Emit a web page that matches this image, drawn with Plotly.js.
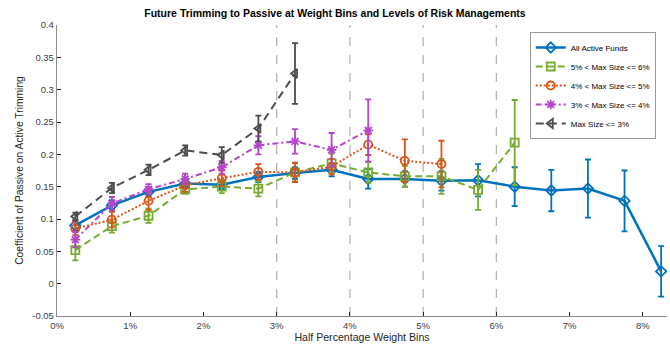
<!DOCTYPE html>
<html>
<head>
<meta charset="utf-8">
<script src="https://cdn.plot.ly/plotly-3.0.1.min.js"></script>
<style>html,body{margin:0;padding:0;background:#fff;}#chart{width:670px;height:353px;}</style>
</head>
<body>
<div id="chart"></div>
<script>
// Bin centers (percent weight)
const bins = [0.25,0.75,1.25,1.75,2.25,2.75,3.25,3.75,4.25,4.75,5.25,5.75,6.25,6.75,7.25,7.75,8.25];

const allActive    = [0.090,0.121,0.142,0.155,0.153,0.165,0.171,0.176,0.162,0.162,0.159,0.160,0.150,0.144,0.147,0.128,0.019];
const allActiveErr = [0.008,0.008,0.007,0.006,0.007,0.008,0.009,0.010,0.015,0.012,0.015,0.025,0.030,0.032,0.045,0.047,0.039];

const size6    = [0.052,0.089,0.105,0.146,0.150,0.147,0.172,0.186,0.172,0.166,0.166,0.145,0.218];
const size6Err = [0.016,0.010,0.011,0.007,0.010,0.012,0.014,0.015,0.016,0.016,0.027,0.031,0.066];

const size5    = [0.085,0.099,0.128,0.152,0.163,0.173,0.172,0.181,0.215,0.190,0.185];
const size5Err = [0.010,0.012,0.014,0.010,0.012,0.012,0.015,0.012,0.016,0.033,0.036];

const size4    = [0.068,0.124,0.146,0.162,0.180,0.214,0.220,0.207,0.237];
const size4Err = [0.012,0.010,0.008,0.008,0.010,0.014,0.019,0.026,0.048];

const size3    = [0.104,0.148,0.176,0.206,0.199,0.240,0.325];
const size3Err = [0.006,0.008,0.008,0.008,0.012,0.020,0.047];

const names = ['All Active Funds','5% < Max Size <= 6%','4% < Max Size <= 5%','3% < Max Size <= 4%','Max Size <= 3%'];
const xTicks = [0,1,2,3,4,5,6,7,8];
const xTickText = xTicks.map(v => v + '%');
const yTicks = [-0.05,0,0.05,0.1,0.15,0.2,0.25,0.3,0.35,0.4];
const yTickText = ['-0.05','0','0.05','0.1','0.15','0.2','0.25','0.3','0.35','0.4'];
const vlines = [3,4,5,6];

function tr(name, y, err, color, dash, symbol, width){
  return {
    x: bins.slice(0, y.length), y: y, name: name, type: 'scatter', mode: 'lines+markers',
    line: {color: color, width: width, dash: dash},
    marker: {symbol: symbol, size: 8, color: color, line: {color: color, width: 1.8}},
    error_y: {type: 'data', array: err, visible: true, color: color, thickness: 1.8, width: 3}
  };
}

const data = [
  tr(names[0], allActive, allActiveErr, '#0072BD', 'solid', 'diamond-open', 2.5),
  tr(names[1], size6, size6Err, '#77AC30', '7px,4px', 'square-open', 2),
  tr(names[2], size5, size5Err, '#D95319', '2px,2px', 'circle-open', 2),
  tr(names[3], size4, size4Err, '#B446CC', '6px,3px,2px,3px', 'asterisk-open', 2),
  tr(names[4], size3, size3Err, '#4D4D4D', '8px,5px', 'triangle-left-open', 2)
];

const shapes = vlines.map(v => ({
  type: 'line', xref: 'x', yref: 'paper', x0: v, x1: v, y0: 0, y1: 1,
  line: {color: '#b5b5b5', width: 1.3, dash: 'dash'}, layer: 'below'
}));

const layout = {
  width: 670, height: 353,
  margin: {l: 57, r: 3, t: 25, b: 37},
  paper_bgcolor: '#fff', plot_bgcolor: '#fff',
  font: {family: 'Liberation Sans, Arial, sans-serif', size: 9.5, color: '#262626'},
  title: {text: '<b>Future Trimming to Passive at Weight Bins and Levels of Risk Managements</b>',
          font: {size: 10.5, color: '#000'}, x: 0.5, xanchor: 'center', y: 0.962, yanchor: 'middle'},
  xaxis: {
    range: [0, 8.33], tickvals: xTicks, ticktext: xTickText, ticks: 'inside', ticklen: 4,
    tickcolor: '#262626', showgrid: false, zeroline: false, showline: true, linecolor: '#8c8c8c', linewidth: 1.2,
    title: {text: 'Half Percentage Weight Bins', font: {size: 10.6, color: '#262626'}, standoff: 4},
    tickfont: {size: 9.5, color: '#404040'}
  },
  yaxis: {
    range: [-0.05, 0.4], tickvals: yTicks, ticktext: yTickText, ticks: 'inside', ticklen: 4,
    tickcolor: '#262626', showgrid: false, zeroline: false, showline: true, linecolor: '#8c8c8c', linewidth: 1.2,
    title: {text: 'Coefficient of Passive on Active Trimming', font: {size: 10.3, color: '#262626'}, standoff: 6},
    tickfont: {size: 9.5, color: '#404040'}
  },
  shapes: shapes,
  showlegend: true,
  legend: {x: 0.775, y: 0.976, xanchor: 'left', yanchor: 'top', bgcolor: '#fff',
           bordercolor: '#999', borderwidth: 1, font: {size: 8, color: '#000'},
           tracegroupgap: 0, itemwidth: 30}
};

Plotly.newPlot('chart', data, layout, {displayModeBar: false, staticPlot: true});
</script>
</body>
</html>
